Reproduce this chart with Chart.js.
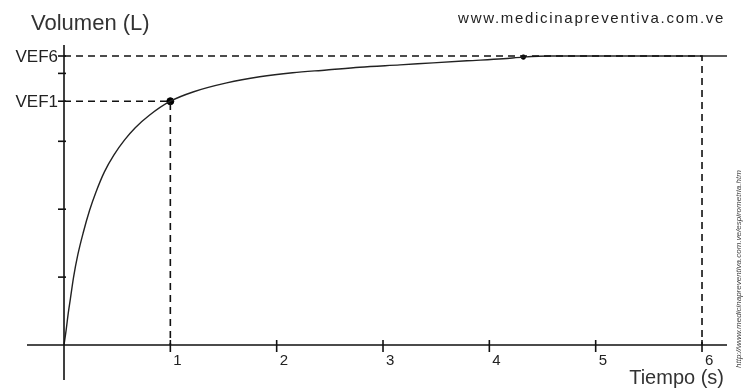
<!DOCTYPE html>
<html>
<head>
<meta charset="utf-8">
<script src="https://cdn.jsdelivr.net/npm/chart.js@4.4.0/dist/chart.umd.min.js"></script>
<style>
  html, body { margin: 0; padding: 0; background: #fff; }
  #wrap { width: 747px; height: 388px; position: relative; }
</style>
</head>
<body>
<div id="wrap"><canvas id="chart" width="747" height="388"></canvas></div>
<script>
// tiempo (s) / volumen (L)
const curveT = [0, 0.02, 0.04, 0.06, 0.09, 0.13, 0.18, 0.24, 0.30, 0.38, 0.47, 0.57, 0.67, 0.80, 1.0, 1.22, 1.53, 1.84, 2.15, 2.47, 2.78, 3.16, 3.47, 3.79, 4.13, 4.32, 4.57, 5.46, 6.24];
const curveV = [0, 0.22, 0.47, 0.68, 1.0, 1.33, 1.65, 1.98, 2.25, 2.55, 2.80, 3.02, 3.20, 3.38, 3.59, 3.73, 3.86, 3.95, 4.01, 4.05, 4.09, 4.125, 4.155, 4.185, 4.215, 4.24, 4.256, 4.256, 4.256];

const VEF1 = 3.59;
const VEF6 = 4.256;
const xTicks = [1, 2, 3, 4, 5, 6];
const yTicks = [1, 2, 3, 4];
const yLabels = ['VEF1', 'VEF6'];
const yLabelValues = [VEF1, VEF6];
const markT = [1, 4.32];
const markV = [VEF1, 4.24];

const curve = curveT.map((t, i) => ({ x: t, y: curveV[i] }));

const axesPlugin = {
    id: 'axes',
    afterDatasetsDraw(chart) {
        const ctx = chart.ctx;
        const xs = chart.scales.x, ys = chart.scales.y;
        const area = chart.chartArea;
        const x0 = xs.getPixelForValue(0), y0 = ys.getPixelForValue(0);
        ctx.save();
        ctx.strokeStyle = '#111';
        ctx.lineWidth = 1.6;
        ctx.beginPath();
        ctx.moveTo(area.left, y0); ctx.lineTo(area.right, y0);
        ctx.moveTo(x0, area.top); ctx.lineTo(x0, area.bottom);
        ctx.stroke();

        // x ticks cross the axis, labels sit right-below
        ctx.fillStyle = '#222';
        ctx.font = '15px "Liberation Sans", Arial, sans-serif';
        ctx.textAlign = 'left';
        ctx.textBaseline = 'alphabetic';
        xTicks.forEach(v => {
            const px = xs.getPixelForValue(v);
            ctx.beginPath();
            ctx.moveTo(px, y0 - 5); ctx.lineTo(px, y0 + 7);
            ctx.stroke();
            ctx.fillText(String(v), px + 3, y0 + 20);
        });

        // y ticks to the left
        yTicks.concat(yLabelValues).forEach(v => {
            const py = ys.getPixelForValue(v);
            ctx.beginPath();
            ctx.moveTo(x0 - 6, py); ctx.lineTo(x0 + 2, py);
            ctx.stroke();
        });
        ctx.font = '17px "Liberation Sans", Arial, sans-serif';
        ctx.textAlign = 'right';
        ctx.textBaseline = 'middle';
        yLabels.forEach((lab, i) => {
            ctx.fillText(lab, x0 - 6, ys.getPixelForValue(yLabelValues[i]) + 1);
        });

        // titles
        ctx.fillStyle = '#333';
        ctx.font = '22px "Liberation Sans", Arial, sans-serif';
        ctx.textAlign = 'left';
        ctx.textBaseline = 'alphabetic';
        ctx.fillText('Volumen (L)', 31, 30);

        ctx.font = '20px "Liberation Sans", Arial, sans-serif';
        ctx.textAlign = 'right';
        ctx.fillText('Tiempo (s)', 724, 384);

        ctx.fillStyle = '#222';
        ctx.font = '15px "Liberation Sans", Arial, sans-serif';
        ctx.letterSpacing = '1.7px';
        ctx.fillText('www.medicinapreventiva.com.ve', 725, 23);
        ctx.letterSpacing = '0px';

        ctx.translate(741, 368);
        ctx.rotate(-Math.PI / 2);
        ctx.fillStyle = '#444';
        ctx.font = 'italic 8px "Liberation Sans", Arial, sans-serif';
        ctx.textAlign = 'left';
        ctx.fillText('http://www.medicinapreventiva.com.ve/espirometria.htm', 0, 0);
        ctx.restore();
    }
};

new Chart(document.getElementById('chart'), {
    type: 'scatter',
    data: {
        datasets: [
            {
                data: [{ x: 0, y: VEF1 }, { x: 1, y: VEF1 }, { x: 1, y: 0 }],
                showLine: true, borderColor: '#111', borderWidth: 1.6,
                borderDash: [7, 5], pointRadius: 0, tension: 0
            },
            {
                data: [{ x: 0, y: VEF6 }, { x: 6, y: VEF6 }, { x: 6, y: 0 }],
                showLine: true, borderColor: '#111', borderWidth: 1.6,
                borderDash: [7, 5], pointRadius: 0, tension: 0
            },
            {
                data: curve,
                showLine: true, borderColor: '#222', borderWidth: 1.4,
                pointRadius: 0, cubicInterpolationMode: 'monotone'
            },
            {
                data: markT.map((t, i) => ({ x: t, y: markV[i] })),
                showLine: false, pointRadius: [3.5, 2.2],
                backgroundColor: '#000', borderColor: '#000'
            }
        ]
    },
    options: {
        responsive: false,
        animation: false,
        layout: { padding: { left: 27, right: 20, top: 45, bottom: 8 } },
        plugins: { legend: { display: false }, tooltip: { enabled: false } },
        scales: {
            x: { type: 'linear', display: false, min: -0.348, max: 6.235 },
            y: { type: 'linear', display: false, min: -0.515, max: 4.418 }
        }
    },
    plugins: [axesPlugin]
});
</script>
</body>
</html>
